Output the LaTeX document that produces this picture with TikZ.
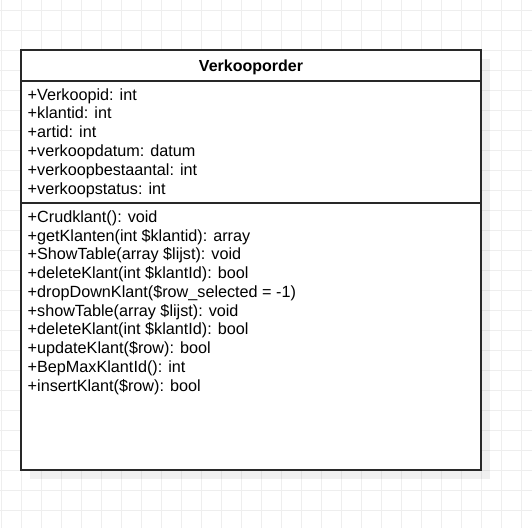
\documentclass[tikz,border=0pt]{standalone}
\usepackage{fontspec}
\setmainfont{Liberation Sans}
\definecolor{grid_grey}{RGB}{238,238,238}
\definecolor{box_line}{RGB}{40,40,40}
\tikzstyle{gridline}=[draw=grid_grey,line width=1pt]
\tikzstyle{cls}=[rectangle,draw=box_line,fill=white,line width=1.1pt,
  inner sep=0pt,minimum width=460pt]
\tikzstyle{member}=[anchor=base west,inner sep=0pt,
  font=\fontsize{16.2}{19}\selectfont]
\tikzstyle{title}=[anchor=base,inner sep=0pt,
  font=\fontsize{16}{19}\selectfont\bfseries]

\begin{document}
\begin{tikzpicture}[x=1pt,y=-1pt]
        \useasboundingbox (0,0) rectangle (532,528);
        \fill[white] (0,0) rectangle (532,528);
        % background grid
        \foreach \gx in {1.5,21.5,...,521.5}
            \draw[gridline] (\gx,0) -- (\gx,528);
        \foreach \gy in {10,30,...,510}
            \draw[gridline] (0,\gy) -- (532,\gy);
        % shadow
        \fill[black,opacity=0.06] (30,59) rectangle (490,479);
        % class box
        \node[style=cls,minimum height=31pt] (head) at (251,65.5) {};
        \node[style=cls,minimum height=122pt] (attrs) at (251,142) {};
        \node[style=cls,minimum height=267pt] (meths) at (251,336.5) {};
        \node[style=title] (name) at (251,71.5) {Verkooporder};
        \node[style=member] (a1) at (27.5,100) {+Verkoopid: int};
        \node[style=member] (a2) at (27.5,118.8) {+klantid: int};
        \node[style=member] (a3) at (27.5,137.6) {+artid: int};
        \node[style=member] (a4) at (27.5,156.4) {+verkoopdatum: datum};
        \node[style=member] (a5) at (27.5,175.2) {+verkoopbestaantal: int};
        \node[style=member] (a6) at (27.5,194) {+verkoopstatus: int};
        \node[style=member] (m1) at (27.5,222.4) {+Crudklant(): void};
        \node[style=member] (m2) at (27.5,241.15) {+getKlanten(int \$klantid): array};
        \node[style=member] (m3) at (27.5,259.9) {+ShowTable(array \$lijst): void};
        \node[style=member] (m4) at (27.5,278.65) {+deleteKlant(int \$klantId): bool};
        \node[style=member] (m5) at (27.5,297.4) {+dropDownKlant(\$row\_selected = -1)};
        \node[style=member] (m6) at (27.5,316.15) {+showTable(array \$lijst): void};
        \node[style=member] (m7) at (27.5,334.9) {+deleteKlant(int \$klantId): bool};
        \node[style=member] (m8) at (27.5,353.65) {+updateKlant(\$row): bool};
        \node[style=member] (m9) at (27.5,372.4) {+BepMaxKlantId(): int};
        \node[style=member] (m10) at (27.5,391.15) {+insertKlant(\$row): bool};
    \end{tikzpicture}
\end{document}
